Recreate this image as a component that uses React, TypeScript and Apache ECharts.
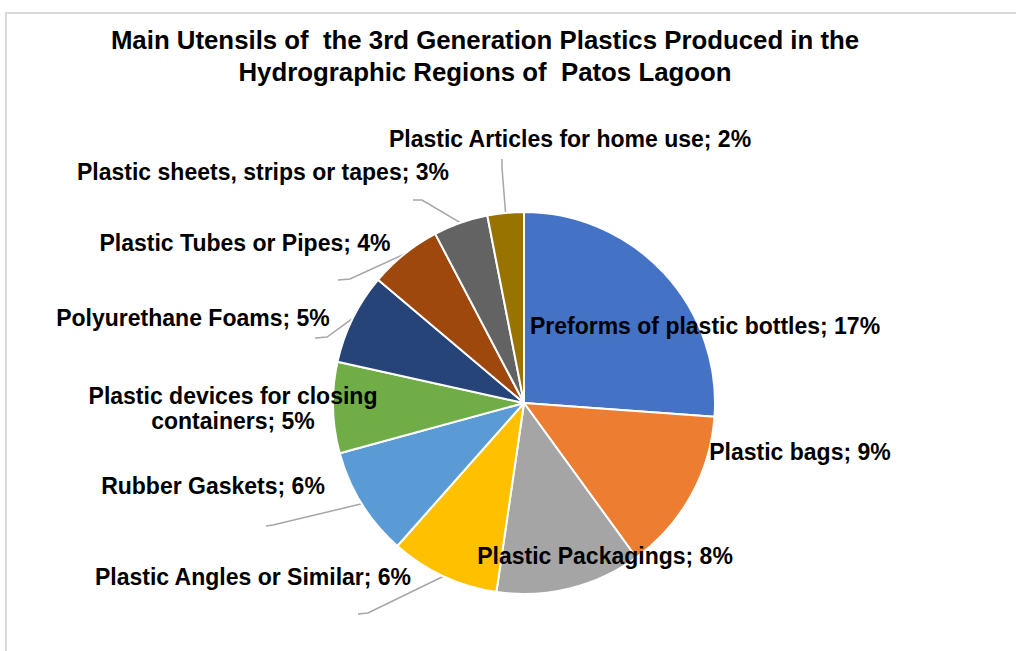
import React, { useEffect, useRef } from "react";
import * as echarts from "echarts";

const categories: string[] = [
  "Preforms of plastic bottles",
  "Plastic bags",
  "Plastic Packagings",
  "Plastic Angles or Similar",
  "Rubber Gaskets",
  "Plastic devices for closing\ncontainers",
  "Polyurethane Foams",
  "Plastic Tubes or Pipes",
  "Plastic sheets, strips or tapes",
  "Plastic Articles for home use",
];

const percentValues: number[] = [17, 9, 8, 6, 6, 5, 5, 4, 3, 2];

const sliceColors: string[] = [
  "#4472C4",
  "#ED7D31",
  "#A5A5A5",
  "#FFC000",
  "#5B9BD5",
  "#70AD47",
  "#264478",
  "#9E480E",
  "#636363",
  "#997300",
];

// label placement (centre x, middle y) and leader-line bends, per slice
type Spot = { x: number; y: number; line?: number[][] };
const labelSpots: Spot[] = [
  { x: 705, y: 326 },
  { x: 800, y: 452 },
  { x: 605, y: 556 },
  { x: 253, y: 577, line: [[368, 613], [358, 614]] },
  { x: 213, y: 486, line: [[273, 525], [266, 526]] },
  { x: 233, y: 408 },
  { x: 193, y: 318, line: [[327, 337], [315, 338]] },
  { x: 245, y: 243, line: [[350, 279], [338, 280]] },
  { x: 263, y: 172, line: [[422, 200], [413, 200]] },
  { x: 570, y: 139, line: [[502, 168], [502, 159]] },
];

const titleText =
  "Main Utensils of  the 3rd Generation Plastics Produced in the\nHydrographic Regions of  Patos Lagoon";

export default function App() {
  const ref = useRef<HTMLDivElement>(null);

  useEffect(() => {
    if (!ref.current) return;
    const chart = echarts.init(ref.current, undefined, { renderer: "svg" });
    const data = categories.map((name, i) => ({
      name,
      value: percentValues[i],
      itemStyle: { color: sliceColors[i] },
      labelLine: { show: !!labelSpots[i].line },
    }));
    chart.setOption({
      animation: false,
      backgroundColor: "#ffffff",
      title: {
        text: titleText,
        left: 480,
        top: 19,
        textAlign: "center",
        textStyle: {
          fontFamily: "'Liberation Sans', Arial, sans-serif",
          fontWeight: "bold",
          fontSize: 25.8,
          lineHeight: 32,
          color: "#000000",
        },
      },
      graphic: [
        {
          type: "rect",
          shape: { x: 6, y: 13, width: 1200, height: 800 },
          style: { fill: "none", stroke: "#d9d9d9", lineWidth: 2 },
          silent: true,
        },
      ],
      series: [
        {
          type: "pie",
          center: [524, 403],
          radius: 191,
          startAngle: 90,
          clockwise: true,
          avoidLabelOverlap: false,
          emphasis: { disabled: true },
          itemStyle: { borderColor: "#ffffff", borderWidth: 2 },
          label: {
            show: true,
            position: "outside",
            formatter: (p: any) => `${p.name}; ${p.value}%`,
            fontFamily: "'Liberation Sans', Arial, sans-serif",
            fontWeight: "bold",
            fontSize: 23,
            lineHeight: 25,
            color: "#000000",
            align: "center",
          },
          labelLine: {
            show: true,
            lineStyle: { color: "#a6a6a6", width: 1.5 },
          },
          labelLayout: (params: any) => {
            const spot = labelSpots[params.dataIndex];
            const out: any = {
              x: spot.x,
              y: spot.y,
              align: "center",
              verticalAlign: "middle",
            };
            if (spot.line && params.labelLinePoints) {
              out.labelLinePoints = [params.labelLinePoints[0], ...spot.line];
            }
            return out;
          },
          data,
        },
      ],
    });
    return () => chart.dispose();
  }, []);

  return (
    <div
      ref={ref}
      style={{ position: "fixed", left: 0, top: 0, width: 1016, height: 651 }}
    />
  );
}
